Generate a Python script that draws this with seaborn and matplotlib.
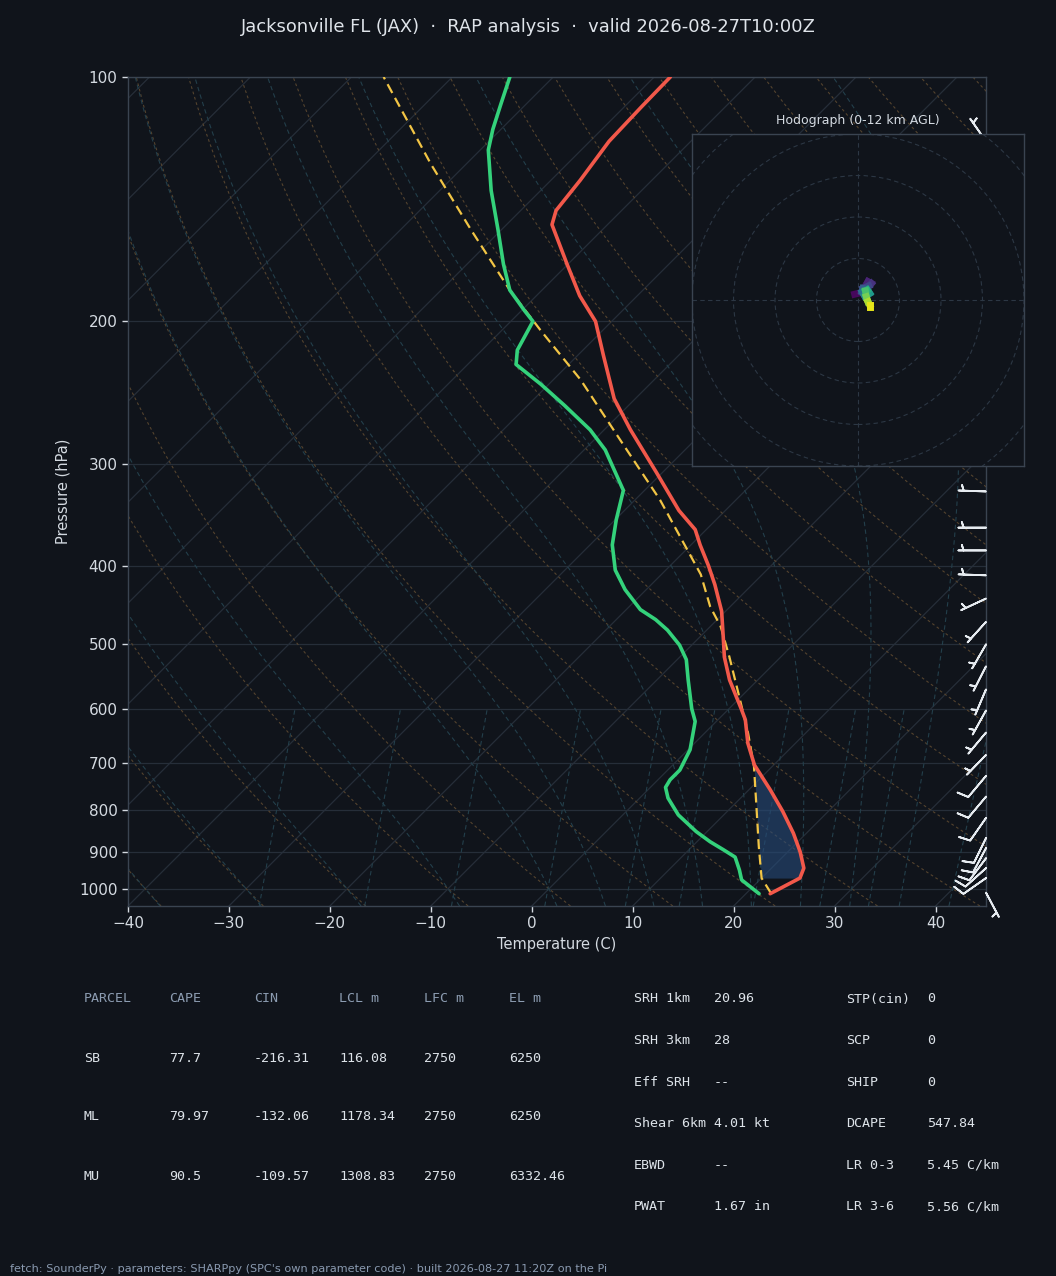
import numpy as np
import pandas as pd
import matplotlib
matplotlib.use("Agg")
import matplotlib.pyplot as plt
import matplotlib.transforms as mtransforms
from matplotlib.collections import LineCollection
from matplotlib.patches import Circle
from matplotlib.ticker import FixedLocator, NullLocator, FuncFormatter
import seaborn as sns

# ---------------- data ----------------
TITLE = "Jacksonville FL (JAX)  \u00b7  RAP analysis  \u00b7  valid 2026-08-27T10:00Z"
FOOTER = ("fetch: SounderPy \u00b7 parameters: SHARPpy (SPC's own parameter code) "
          "\u00b7 built 2026-08-27 11:20Z on the Pi")

temp_p = [1014, 970, 943, 900, 854, 803, 755, 704, 662, 619, 600, 553, 518, 500,
          455, 422, 400, 377, 361, 342, 307, 272, 249, 220, 200, 186, 170, 152,
          146, 134, 120, 109, 100]
temp_c = [22.4, 23.8, 23.2, 21.2, 18.7, 15.5, 12.1, 8.1, 5.3, 2.7, 1.2, -2.8, -5.6,
          -6.9, -10.4, -13.7, -16.2, -19.1, -21.1, -24.6, -30.6, -37.4, -42.1,
          -47.5, -51.6, -55.7, -60.1, -65.5, -66.5, -67.1, -68.1, -68.3, -68.4]

dewp_p = [1014, 975, 948, 914, 895, 875, 850, 811, 773, 750, 734, 714, 674, 622,
          600, 553, 522, 501, 480, 466, 453, 428, 405, 377, 351, 323, 305, 288,
          272, 254, 239, 226, 217, 200, 194, 183, 170, 154, 138, 123, 116, 108, 100]
dewp_c = [21.3, 18.2, 17.0, 15.3, 13.4, 11.3, 8.9, 5.5, 2.8, 1.5, 1.2, 1.2, 0.2,
          -2.1, -3.7, -6.9, -9.1, -11.2, -13.9, -16.1, -18.6, -22.1, -25.0, -27.8,
          -29.9, -32.1, -35.0, -37.9, -41.4, -46.3, -50.8, -55.2, -56.5, -57.8,
          -59.7, -63.2, -66.4, -70.4, -74.9, -79.2, -80.8, -82.5, -84.3]

parcel_p = [1012, 970, 887, 777, 707, 643, 585, 518, 475, 449, 410, 332, 280, 236,
            205, 183, 154, 128, 100]
parcel_c = [22.4, 20.0, 16.6, 11.7, 8.2, 4.3, 0.2, -5.1, -9.0, -12.0, -16.1, -27.5,
            -37.4, -47.3, -56.2, -63.2, -73.1, -83.5, -96.8]

barb_p = [1011, 970, 943, 917, 891, 866, 818, 770, 726, 684, 642, 603, 568, 532,
          500, 469, 439, 411, 383, 359, 324, 300, 270, 240, 210, 180, 150, 120]
barb_dir = [152, 235, 228, 217, 208, 206, 215, 220, 220, 224, 220, 209, 203, 207,
            210, 222, 245, 272, 270, 270, 272, 275, 280, 285, 290, 300, 310, 325]
barb_kt = [5, 10, 10, 10, 10, 10, 10, 10, 10, 5, 5, 5, 5, 5,
           5, 5, 5, 5, 5, 5, 5, 5, 5, 5, 5, 5, 5, 5]

hodo_km = [0, 0.5, 1, 1.5, 2, 3, 4, 5, 6, 7, 8, 9, 10, 11, 12]
hodo_u = [-0.8, 0.8, 2.4, 3.2, 2.6, 1.2, 1.0, 1.6, 2.8, 2.2, 1.8, 2.0, 2.4, 2.8, 2.8]
hodo_v = [1.4, 1.8, 4.4, 4.0, 3.4, 2.8, 2.0, 1.0, 1.6, 2.4, 2.2, 0.8, -0.4, -1.2, -1.6]

parcel_names = ["SB", "ML", "MU"]
parcel_cape = [77.7, 79.97, 90.5]
parcel_cin = [-216.31, -132.06, -109.57]
parcel_lcl = [116.08, 1178.34, 1308.83]
parcel_lfc = [2750, 2750, 2750]
parcel_el = [6250, 6250, 6332.46]
parcel_headers = ["PARCEL", "CAPE", "CIN", "LCL m", "LFC m", "EL m"]

kin_labels = ["SRH 1km", "SRH 3km", "Eff SRH", "Shear 6km", "EBWD", "PWAT"]
kin_values = ["20.96", "28", "--", "4.01 kt", "--", "1.67 in"]
idx_labels = ["STP(cin)", "SCP", "SHIP", "DCAPE", "LR 0-3", "LR 3-6"]
idx_values = ["0", "0", "0", "547.84", "5.45 C/km", "5.56 C/km"]

# ---------------- style ----------------
BG = "#10141b"
TXT = "#d4dae1"
GRID = "#262e39"
SPINE = "#3a4451"
DRY = "#54432e"
MOIST = "#233f4b"
MIX = "#233f4b"
RED = "#f2584a"
GREEN = "#34d27b"
YELLOW = "#f2c545"
BARB = "#e6ebf0"

sns.set_theme(style="dark", rc={
    "figure.facecolor": BG, "axes.facecolor": BG, "axes.edgecolor": SPINE,
    "text.color": TXT, "axes.labelcolor": TXT, "xtick.color": TXT,
    "ytick.color": TXT, "axes.grid": False,
})
plt.rcParams["font.family"] = ["DejaVu Sans"]

W, H = 1056, 1276
fig = plt.figure(figsize=(W / 100, H / 100), dpi=100)
fig.patch.set_facecolor(BG)

ax = fig.add_axes([128 / W, 1 - 906 / H, 858 / W, 829 / H])
ax.set_facecolor(BG)
ax.set_yscale("log")
ax.set_xlim(-40, 45)
ax.set_ylim(1050, 100)

# skew-T transform: shear in axes space so isotherms run at 45 degrees on screen
shear = mtransforms.Affine2D().skew(np.arctan(829 / 858), 0)
SKEW = ax.transScale + ax.transLimits + shear + ax.transAxes

# ---- background reference lines ----
p_full = np.linspace(1050, 100, 120)
for t in range(-130, 50, 10):
    ax.plot([t, t], [1050, 100], color=GRID, lw=0.9, transform=SKEW, zorder=1)

for t0 in np.arange(-40, 250, 10):
    tt = (t0 + 273.15) * (p_full / 1000.0) ** 0.2857 - 273.15
    ax.plot(tt, p_full, color=DRY, lw=0.8, ls=(0, (2.5, 2.5)), transform=SKEW, zorder=1)


def moist_rate(p, T):
    es = 6.112 * np.exp(17.67 * (T - 273.15) / (T - 29.65))
    rs = 0.622 * es / (p - es)
    return (287.04 * T + 2.501e6 * rs) / (1005.7 + 2.501e6 ** 2 * rs * 0.622 / (287.04 * T * T)) / p


def integrate(T0, ps):
    out = [T0]
    T = T0
    for a, b in zip(ps[:-1], ps[1:]):
        h = b - a
        k1 = moist_rate(a, T)
        k2 = moist_rate(a + h / 2, T + h / 2 * k1)
        k3 = moist_rate(a + h / 2, T + h / 2 * k2)
        k4 = moist_rate(b, T + h * k3)
        T = T + h / 6 * (k1 + 2 * k2 + 2 * k3 + k4)
        out.append(T)
    return np.array(out)


moist_t0 = np.array([-40, -30, -20, -10] + list(range(0, 46, 5)), dtype=float) + 273.15
p_up = np.linspace(1000, 100, 181)
p_dn = np.linspace(1000, 1050, 11)
T_up = integrate(moist_t0, p_up)
T_dn = integrate(moist_t0, p_dn)
for i in range(len(moist_t0)):
    pp = np.concatenate([p_dn[::-1], p_up[1:]])
    tt = np.concatenate([T_dn[::-1, i], T_up[1:, i]]) - 273.15
    ax.plot(tt, pp, color=MOIST, lw=0.8, ls=(0, (4, 3)), transform=SKEW, zorder=1)

p_mix = np.linspace(1050, 600, 30)
for w in [0.4, 1, 2, 4, 7, 10, 16, 24, 32]:
    e = 1050 * (w / 1000) / (0.622 + w / 1000)
    lg = np.log(e / 6.112)
    td0 = 243.5 * lg / (17.67 - lg)
    tt = td0 - 16.0 * np.log(1050 / p_mix) / np.log(1050 / 600)
    ax.plot(tt, p_mix, color=MIX, lw=0.8, ls=(0, (4, 3)), transform=SKEW, zorder=1)

# ---- CIN shading between parcel and environment ----
pg = np.linspace(970, 707, 40)
env_i = np.interp(np.log(pg)[::-1], np.log(temp_p)[::-1], np.array(temp_c)[::-1])[::-1]
par_i = np.interp(np.log(pg)[::-1], np.log(parcel_p)[::-1], np.array(parcel_c)[::-1])[::-1]
ax.fill_betweenx(pg, par_i, env_i, where=par_i <= env_i, color="#274b7a", alpha=0.6,
                 lw=0, transform=SKEW, zorder=2)

# ---- profiles via seaborn ----
df_t = pd.DataFrame({"T": temp_c, "p": temp_p})
df_d = pd.DataFrame({"T": dewp_c, "p": dewp_p})
df_pc = pd.DataFrame({"T": parcel_c, "p": parcel_p})
sns.lineplot(data=df_pc, x="T", y="p", sort=False, estimator=None, ax=ax,
             color=YELLOW, lw=1.6, linestyle=(0, (4.5, 2.5)), transform=SKEW, zorder=4)
sns.lineplot(data=df_t, x="T", y="p", sort=False, estimator=None, ax=ax,
             color=RED, lw=2.6, transform=SKEW, zorder=5)
sns.lineplot(data=df_d, x="T", y="p", sort=False, estimator=None, ax=ax,
             color=GREEN, lw=2.6, transform=SKEW, zorder=5)

# ---- wind barbs ----
d = np.deg2rad(barb_dir)
bu = -np.array(barb_kt) * np.sin(d)
bv = -np.array(barb_kt) * np.cos(d)
ax.barbs(np.ones(len(barb_p)), barb_p, bu, bv, transform=ax.get_yaxis_transform(),
         clip_on=False, length=6.3, color=BARB, linewidth=1.3, zorder=6)

# ---- axes cosmetics ----
ax.set_xlim(-40, 45)
ax.set_ylim(1050, 100)
ax.yaxis.set_major_locator(FixedLocator([100, 200, 300, 400, 500, 600, 700, 800, 900, 1000]))
ax.yaxis.set_minor_locator(NullLocator())
ax.yaxis.set_major_formatter(FuncFormatter(lambda v, _: f"{int(round(v))}"))
ax.xaxis.set_major_locator(FixedLocator(list(range(-40, 41, 10))))
ax.grid(axis="y", color=GRID, lw=0.9)
ax.grid(axis="x", visible=False)
ax.tick_params(axis="both", labelsize=11, colors=TXT, length=4, width=1, direction="out")
ax.tick_params(left=True, bottom=True)
for s in ax.spines.values():
    s.set_color(SPINE)
    s.set_linewidth(1.0)
ax.set_xlabel("Temperature (C)", fontsize=10.5, color=TXT, labelpad=4)
ax.set_ylabel("Pressure (hPa)", fontsize=10.5, color=TXT, labelpad=6)

fig.text(0.5, 1 - 27 / H, TITLE, ha="center", va="center", fontsize=12.9, color="#dfe4ea")

# ---- hodograph inset ----
hax = fig.add_axes([692 / W, 1 - 466 / H, 332 / W, 332 / H])
hax.set_facecolor(BG)
hax.set_xlim(-40, 40)
hax.set_ylim(-40, 40)
RING = "#2c3744"
for r in range(10, 60, 10):
    hax.add_patch(Circle((0, 0), r, fill=False, ls=(0, (4, 3)), lw=0.8, ec=RING))
hax.axhline(0, color=RING, lw=0.8, ls=(0, (4, 3)))
hax.axvline(0, color=RING, lw=0.8, ls=(0, (4, 3)))
pts = np.column_stack([hodo_u, hodo_v]).reshape(-1, 1, 2)
segs = np.concatenate([pts[:-1], pts[1:]], axis=1)
mids = (np.array(hodo_km[:-1]) + np.array(hodo_km[1:])) / 2
lc = LineCollection(segs, cmap="viridis", norm=plt.Normalize(0, 12), lw=5.0,
                    capstyle="projecting", zorder=4)
lc.set_array(mids)
hax.add_collection(lc)
hax.set_xticks(np.arange(-37.5, 38, 12.5))
hax.set_yticks(np.arange(-40, 41, 10))
hax.tick_params(labelbottom=False, labelleft=False, colors="#c9d1d9", length=4, width=1)
for s in hax.spines.values():
    s.set_color(SPINE)
    s.set_linewidth(1.0)
hax.set_title("Hodograph (0-12 km AGL)", fontsize=9, color=TXT, pad=7)

# ---- parameter tables ----
MONO = "DejaVu Sans Mono"
HDR = "#8c9cb1"
VAL = "#dde3e9"
col_x = [84, 169, 254, 339, 424, 509]
for cx, htxt in zip(col_x, parcel_headers):
    fig.text(cx / W, 1 - 999 / H, htxt, family=MONO, fontsize=9.6, color=HDR, va="center")
for i, name in enumerate(parcel_names):
    y = 1 - (1058 + 59 * i) / H
    vals = [name, f"{parcel_cape[i]:g}", f"{parcel_cin[i]:g}", f"{parcel_lcl[i]:g}",
            f"{parcel_lfc[i]:g}", f"{parcel_el[i]:g}"]
    for cx, v in zip(col_x, vals):
        fig.text(cx / W, y, v, family=MONO, fontsize=9.6, color=VAL, va="center")

for i in range(6):
    y = 1 - (999 + 41.6 * i) / H
    fig.text(634 / W, y, kin_labels[i], family=MONO, fontsize=9.6, color=VAL, va="center")
    fig.text(714 / W, y, kin_values[i], family=MONO, fontsize=9.6, color=VAL, va="center")
    fig.text(846 / W, y, idx_labels[i], family=MONO, fontsize=9.6, color=VAL, va="center")
    fig.text(927 / W, y, idx_values[i], family=MONO, fontsize=9.6, color=VAL, va="center")

fig.text(10 / W, 1 - 1269 / H, FOOTER, fontsize=8.15, color="#8a9ab0", va="center")

fig.savefig("out.png", dpi=100, facecolor=BG)
